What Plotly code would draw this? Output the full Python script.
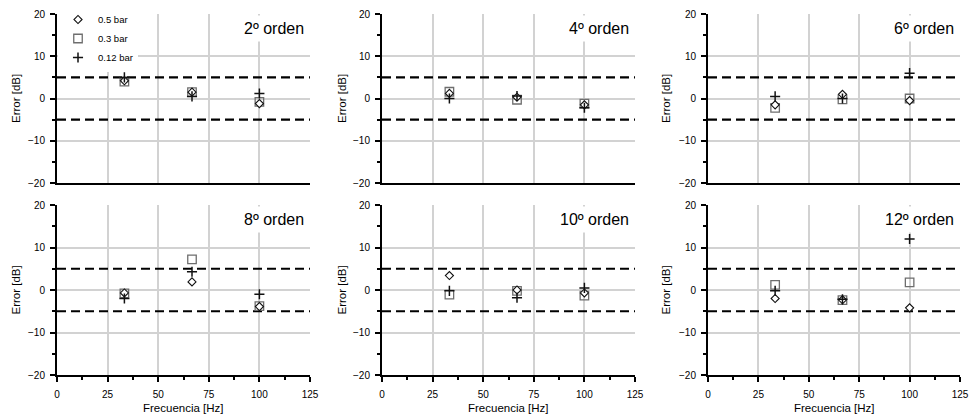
import plotly.graph_objects as go
from plotly.subplots import make_subplots

# Frequencies tested (Hz) and filter orders shown in each panel
freq = [33.3, 66.7, 100]
orders = ["2º orden", "4º orden", "6º orden", "8º orden", "10º orden", "12º orden"]

# Error [dB] per order (rows follow `orders`, columns follow `freq`)
err_05bar = [
    [4.2, 1.5, -1.2],
    [1.2, 0.3, -1.5],
    [-1.5, 1.0, -0.5],
    [-0.7, 1.9, -3.9],
    [3.4, 0.0, -0.7],
    [-2.0, -2.3, -4.2],
]
err_03bar = [
    [4.0, 1.5, -0.8],
    [1.6, -0.3, -1.2],
    [-2.2, -0.2, 0.0],
    [-0.8, 7.2, -3.8],
    [-1.1, -0.2, -1.3],
    [1.2, -2.4, 1.8],
]
err_012bar = [
    [5.0, 0.5, 1.2],
    [0.0, 0.6, -2.2],
    [0.5, 0.0, 6.0],
    [-2.0, 4.3, -1.0],
    [-0.2, -1.8, 0.5],
    [-0.2, -2.2, 12.0],
]

# Tolerance band (dB), drawn across the whole frequency axis
limits = [5, -5]
freq_range = [0, 125]
err_range = [-20, 20]

x_ticks = [0, 25, 50, 75, 100, 125]
y_ticks = [-20, -10, 0, 10, 20]

W, H = 969, 416
FONT = "Liberation Sans, Arial, sans-serif"

# Panel geometry in pixels (left, right) / (top, bottom)
cols_px = [(57, 310), (382, 635), (708, 960)]
rows_px = [(14, 183), (205, 375)]
ytitle_px = [15.5, 341.5, 665.5]

fig = make_subplots(rows=2, cols=3)

series = [
    # name, data, symbol, fill, line colour, line width, size, legend rank
    ("0.3 bar", err_03bar, "square", "rgba(255,255,255,0)", "#6e6e6e", 1.3, 8.5, 2),
    ("0.5 bar", err_05bar, "diamond", "white", "#111111", 1.1, 6.2, 1),
    ("0.12 bar", err_012bar, "cross-thin-open", "#111111", "#111111", 1.5, 7.2, 3),
]

for i, title in enumerate(orders):
    r, c = i // 3 + 1, i % 3 + 1
    # dashed tolerance limits
    for lim in limits:
        fig.add_trace(
            go.Scatter(
                x=freq_range, y=[lim, lim], mode="lines", showlegend=False,
                hoverinfo="skip",
                line=dict(color="black", width=2.2, dash="9px,5px"),
            ),
            row=r, col=c,
        )
    for name, data, sym, fill, lc, lw, sz, rank in series:
        fig.add_trace(
            go.Scatter(
                x=freq,
                y=data[i],
                mode="markers",
                name=name,
                legendrank=rank,
                showlegend=(i == 0),
                marker=dict(symbol=sym, size=sz, color=fill if sym != "cross-thin-open" else lc,
                            line=dict(color=lc, width=lw)),
            ),
            row=r, col=c,
        )

axis_common = dict(
    showline=True, linecolor="black", linewidth=2,
    showgrid=True, gridcolor="#d2d2d2", gridwidth=1.6,
    zeroline=False, tickcolor="black", tickwidth=1.5, ticklen=5,
    tickfont=dict(family=FONT, size=10, color="black"),
    automargin=False,
)

for i in range(6):
    r, c = i // 3, i % 3
    n = "" if i == 0 else str(i + 1)
    x0, x1 = cols_px[c]
    y0, y1 = rows_px[r]
    xdom = [x0 / W, x1 / W]
    ydom = [1 - y1 / H, 1 - y0 / H]
    bottom = r == 1
    fig.layout["xaxis" + n].update(
        domain=xdom, range=freq_range, tickvals=x_ticks,
        showticklabels=bottom, ticklabelstandoff=4,
        ticks="outside" if bottom else "",
        **axis_common,
    )
    if bottom:
        fig.layout["xaxis" + n].update(
            minor=dict(ticks="outside", dtick=12.5, tick0=0, ticklen=3,
                       tickcolor="black", tickwidth=1.5)
        )
    fig.layout["yaxis" + n].update(
        domain=ydom, range=err_range, tickvals=y_ticks, ticklabelstandoff=3,
        ticks="outside",
        minor=dict(ticks="outside", dtick=5, tick0=0, ticklen=3, tickcolor="black", tickwidth=1.5),
        **axis_common,
    )

    # Panel title in the top-right corner on a white box
    fig.add_annotation(
        text=orders[i], xref="paper", yref="paper",
        x=(x1 - 1) / W, y=1 - (y0 + 1) / H, xanchor="right", yanchor="top",
        showarrow=False, bgcolor="white", borderpad=4,
        font=dict(family=FONT, size=16, color="black"),
    )
    # Y axis title
    fig.add_annotation(
        text="Error [dB]", xref="paper", yref="paper",
        x=ytitle_px[c] / W, y=1 - (y0 + y1) / 2 / H, xanchor="center", yanchor="middle",
        textangle=-90, showarrow=False,
        font=dict(family=FONT, size=11.5, color="black"),
    )
    if bottom:
        fig.add_annotation(
            text="Frecuencia [Hz]", xref="paper", yref="paper",
            x=(x0 + x1) / 2 / W, y=1 - 407.5 / H, xanchor="center", yanchor="middle",
            showarrow=False,
            font=dict(family=FONT, size=11.5, color="black"),
        )

fig.update_layout(
    width=W, height=H,
    margin=dict(l=0, r=0, t=0, b=0, autoexpand=False),
    paper_bgcolor="white", plot_bgcolor="white",
    font=dict(family=FONT, color="black"),
    legend=dict(
        x=58 / W, y=1 - 5 / H, xanchor="left", yanchor="top",
        bgcolor="white", borderwidth=0,
        font=dict(family=FONT, size=9.5, color="black"),
        tracegroupgap=0,
    ),
)

fig.write_html("out.html")
